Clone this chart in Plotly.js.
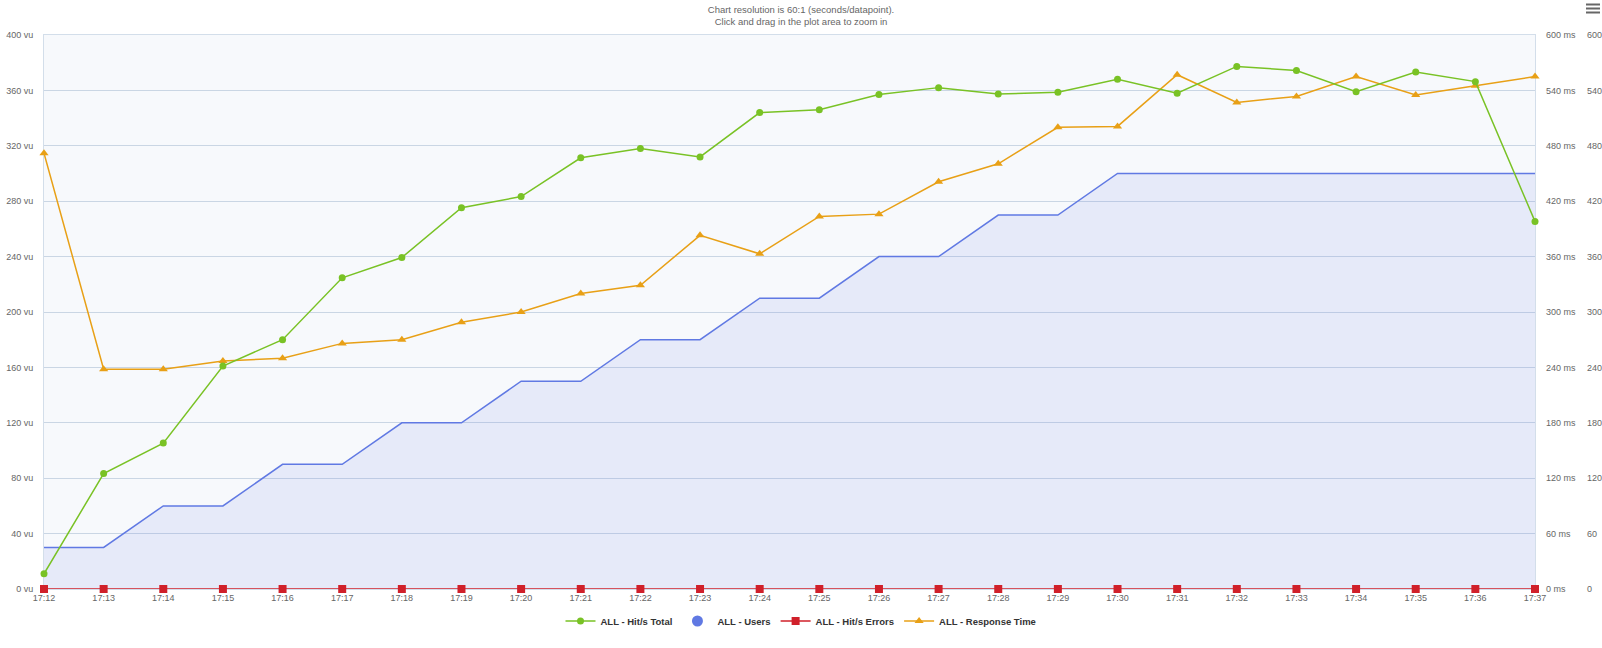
<!DOCTYPE html>
<html>
<head>
<meta charset="utf-8">
<script src="https://cdn.plot.ly/plotly-3.0.1.min.js"></script>
<style>
  html, body { margin: 0; padding: 0; background: #ffffff; }
  #chart { width: 1602px; height: 648px; }
</style>
</head>
<body>
<div id="chart"></div>
<script>
// ---- data ----
const times = ["17:12","17:13","17:14","17:15","17:16","17:17","17:18","17:19","17:20","17:21","17:22","17:23","17:24",
               "17:25","17:26","17:27","17:28","17:29","17:30","17:31","17:32","17:33","17:34","17:35","17:36","17:37"];
const hitsTotal = [16.5,125,158,241.5,270,337,359,413,425,467,477,468,516,519,535.5,543,536,538,552,537,566,561.5,538.5,560,549.5,398];
const users = [30,30,60,60,90,90,120,120,150,150,180,180,210,210,240,240,270,270,300,300,300,300,300,300,300,300];
const hitsErrors = [0,0,0,0,0,0,0,0,0,0,0,0,0,0,0,0,0,0,0,0,0,0,0,0,0,0];
const respTime = [472,238,238,247,250,266,270,289,300,320,329,383,363,403.5,406,441,460.5,500,501,557,527,533.5,555,535,545,555];

const seriesNames = ["ALL - Hit/s Total","ALL - Users","ALL - Hit/s Errors","ALL - Response Time"];
const titleLines = ["Chart resolution is 60:1 (seconds/datapoint).","Click and drag in the plot area to zoom in"];

const cGreen = "#79c225", cBlue = "#6079e3", cRed = "#d0202a", cOrange = "#e8a016";
const FONT = "Liberation Sans, Arial, Helvetica, sans-serif";

const W = 1602, H = 648;
const L = 44, R = 10, T = 35, B = 59;
const pw = W - L - R, ph = H - T - B;
const plotRight = 1535;

const traces = [
  { // Users area (left axis)
    x: times, y: users, type: "scatter", mode: "lines", name: seriesNames[1],
    line: { color: cBlue, width: 1.5 }, fill: "tozeroy", fillcolor: "rgba(96,121,227,0.11)",
    yaxis: "y", showlegend: false, legendgroup: "users", hoverinfo: "x+y+name"
  },
  { // Hit/s total
    x: times, y: hitsTotal, type: "scatter", mode: "lines+markers", name: seriesNames[0],
    line: { color: cGreen, width: 1.5 }, marker: { color: cGreen, size: 7, symbol: "circle" },
    yaxis: "y3", cliponaxis: false, legendrank: 1
  },
  { // Users legend entry
    x: [times[0]], y: [null], type: "scatter", mode: "markers", name: seriesNames[1],
    marker: { color: cBlue, size: 11, symbol: "circle" }, yaxis: "y",
    legendgroup: "users", legendrank: 2, hoverinfo: "skip"
  },
  { // Hit/s errors
    x: times, y: hitsErrors, type: "scatter", mode: "lines+markers", name: seriesNames[2],
    line: { color: cRed, width: 1.5 }, marker: { color: cRed, size: 8, symbol: "square" },
    yaxis: "y3", cliponaxis: false, legendrank: 3
  },
  { // Response time
    x: times, y: respTime, type: "scatter", mode: "lines+markers", name: seriesNames[3],
    line: { color: cOrange, width: 1.5 }, marker: { color: cOrange, size: 8, symbol: "triangle-up" },
    yaxis: "y2", cliponaxis: false, legendrank: 4
  }
];

const gridColor = "#cad6e4";
const tickFont = { family: FONT, size: 9, color: "#666666" };

function hamburger() {
  const ys = [4.5, 8.5, 12.5];
  return ys.map(yy => ({
    type: "line", xref: "paper", yref: "paper",
    x0: (1586 - L) / pw, x1: (1600 - L) / pw,
    y0: (H - B - yy) / ph, y1: (H - B - yy) / ph,
    line: { color: "#666666", width: 2 }
  }));
}

const layout = {
  width: W, height: H,
  margin: { l: L, r: R, t: T, b: B, pad: 0 },
  paper_bgcolor: "#ffffff",
  plot_bgcolor: "#f7f9fc",
  font: { family: FONT, size: 9, color: "#666666" },
  title: {
    text: titleLines.join("<br>"),
    font: { family: FONT, size: 9.5, color: "#666666" },
    xref: "container", x: 0.5, xanchor: "center",
    yref: "container", y: 1 - 12.5 / H, yanchor: "middle", pad: { t: 0, b: 0 }
  },
  showlegend: true,
  legend: {
    orientation: "h", xref: "container", x: 0.5, xanchor: "center",
    yref: "container", y: 1 - 621 / H, yanchor: "middle",
    font: { family: FONT, size: 9.5, color: "#333333", weight: "bold" },
    bgcolor: "rgba(0,0,0,0)", itemwidth: 30, traceorder: "normal"
  },
  xaxis: {
    type: "category", range: [0, times.length - 1],
    domain: [0, (plotRight - L) / pw],
    showgrid: false, zeroline: false,
    showline: true, mirror: true, linecolor: "#d3deea", linewidth: 1,
    layer: "below traces",
    ticks: "", tickfont: tickFont, ticklabelstandoff: 0,
    fixedrange: true
  },
  yaxis: {
    range: [0, 400], dtick: 40, ticksuffix: " vu",
    showgrid: true, gridcolor: gridColor, gridwidth: 1, zeroline: false,
    showline: true, mirror: true, linecolor: "#d3deea", linewidth: 1,
    layer: "below traces",
    ticks: "", tickfont: tickFont, ticklabelstandoff: 8,
    fixedrange: true
  },
  yaxis2: {
    range: [0, 600], dtick: 60, ticksuffix: " ms",
    overlaying: "y", side: "right", anchor: "x",
    showgrid: false, zeroline: false, showline: false,
    ticks: "", tickfont: tickFont, ticklabelstandoff: 10,
    fixedrange: true
  },
  yaxis3: {
    range: [0, 600], dtick: 60,
    overlaying: "y", side: "right", anchor: "free",
    position: (1584 - L) / pw,
    showgrid: false, zeroline: false, showline: false,
    ticks: "", tickfont: tickFont, ticklabelstandoff: 2,
    fixedrange: true
  },
  shapes: hamburger(),
  hovermode: "x"
};

Plotly.newPlot("chart", traces, layout, { displayModeBar: false, responsive: false });
</script>
</body>
</html>
